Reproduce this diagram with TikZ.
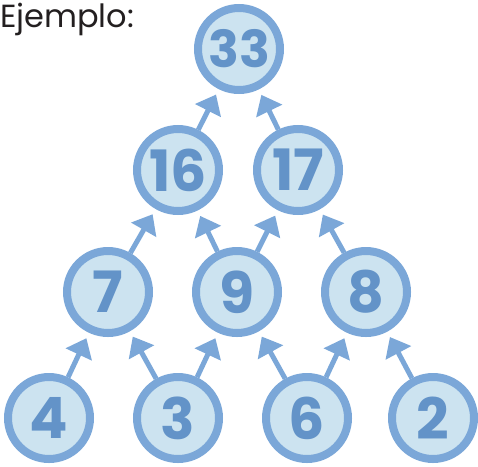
\documentclass[tikz,border=0pt]{standalone}
\usepackage{fontspec}
\setmainfont{Poppins}
\usetikzlibrary{arrows.meta}
\definecolor{ring}{HTML}{7BA7D8}
\definecolor{disc}{HTML}{CCE3F0}
\definecolor{digit}{HTML}{6393C8}
\definecolor{ink}{HTML}{231F20}
\tikzset{
  num/.style={circle, draw=ring, fill=disc, line width=8pt, minimum size=82pt, inner sep=0pt,
    text=digit, font=\fontsize{57}{57}\selectfont\bfseries},
  numsmall/.style={num, font=\fontsize{51}{51}\selectfont\bfseries},
  link/.style={draw=ring, line width=5pt, -{Triangle[length=18pt,width=28pt]}, shorten >=6pt}
}
\begin{document}
\begin{tikzpicture}[x=1pt,y=-1pt]
\useasboundingbox (0,0) rectangle (478,466);
\node[anchor=base west, inner sep=0pt, text=ink, font=\fontsize{32}{32}\selectfont] (title) at (0,27) {Ejemplo:};
\node[numsmall] (n33) at (239,49) {33};
\node[num] (n16) at (178,170) {16};
\node[num] (n17) at (298,170) {17};
\node[num] (n7) at (108,292) {7};
\node[num] (n9) at (237,292) {9};
\node[num] (n8) at (366,292) {8};
\node[num] (n4) at (49,418) {4};
\node[num] (n3) at (178,418) {3};
\node[num] (n6) at (307,418) {6};
\node[num] (n2) at (433,418) {2};
\draw[link] (n4) -- (n7);
\draw[link] (n3) -- (n7);
\draw[link] (n3) -- (n9);
\draw[link] (n6) -- (n9);
\draw[link] (n6) -- (n8);
\draw[link] (n2) -- (n8);
\draw[link] (n7) -- (n16);
\draw[link] (n9) -- (n16);
\draw[link] (n9) -- (n17);
\draw[link] (n8) -- (n17);
\draw[link] (n16) -- (n33);
\draw[link] (n17) -- (n33);
\end{tikzpicture}
\end{document}
